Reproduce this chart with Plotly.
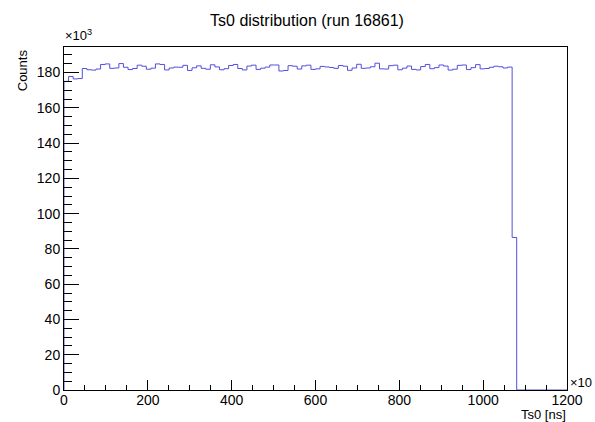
import plotly.graph_objects as go

# Histogram: 110 bins over 0..1200 ns, counts in units of 10^3
x_min = 0.0
x_max = 1200.0
n_bins = 110
counts_k = [
    175.0, 177.8, 176.4, 176.6,
    182.3, 181.6, 181.4, 182.0,
    184.6, 184.9, 182.4, 182.6, 185.1, 183.0, 181.7,
    182.3, 184.2, 183.6, 181.9, 182.5, 184.9, 184.6,
    181.5, 182.6, 183.1, 183.0, 184.1, 181.2, 182.7,
    183.8, 182.4, 181.9, 184.4, 183.2, 181.6, 182.2,
    184.0, 184.6, 182.3, 181.5, 183.7, 184.2, 181.8,
    182.5, 183.1, 184.3, 184.3, 180.9, 181.2, 183.9,
    183.6, 182.0, 183.8, 184.2, 181.8, 182.1, 183.5,
    183.2, 182.9, 182.4, 184.0, 183.6, 181.3, 182.6,
    184.7, 182.4, 182.6, 183.3, 185.3, 182.1, 182.0,
    183.9, 184.2, 181.6, 182.5, 183.7, 181.8, 181.5,
    183.4, 184.6, 182.2, 182.8, 184.3, 183.7, 181.4,
    181.9, 184.1, 184.3, 181.7, 182.8, 184.5, 182.1,
    182.3, 183.0, 183.6, 183.3, 182.6, 183.1,
    86.5,
]
counts_k = counts_k + [0.0] * (n_bins - len(counts_k))

y_ticks = [0, 20, 40, 60, 80, 100, 120, 140, 160, 180]
x_ticks = [0, 200, 400, 600, 800, 1000, 1200]

width = (x_max - x_min) / n_bins
edges = [x_min + i * width for i in range(n_bins + 1)]
xs = [x_min] + edges
ys = [0.0] + counts_k + [counts_k[-1]]

fig = go.Figure()
fig.add_trace(go.Scatter(
    x=xs, y=ys, mode="lines", line=dict(shape="hv", color="#5050dc", width=1),
    hoverinfo="skip", showlegend=False,
))

font_family = "Liberation Sans, Arial, sans-serif"
axis_common = dict(
    showline=True, linecolor="black", linewidth=1, mirror=True,
    ticks="inside", tickcolor="black", showgrid=False, zeroline=False,
    tickfont=dict(family=font_family, size=14, color="black"),
)
fig.update_layout(
    width=595, height=422,
    margin=dict(l=64, r=24, t=47, b=32),
    paper_bgcolor="white", plot_bgcolor="white",
    title=dict(text="Ts0 distribution (run 16861)", x=0.516, xanchor="center",
               y=0.952, yanchor="middle",
               font=dict(family=font_family, size=16, color="black")),
    xaxis=dict(range=[x_min, x_max], tickvals=x_ticks, ticklen=10,
               ticklabelstandoff=-3,
               minor=dict(dtick=50, ticklen=5, ticks="inside", tickcolor="black"),
               **axis_common),
    yaxis=dict(range=[0, 194.5], tickvals=y_ticks, ticklen=15,
               minor=dict(dtick=5, ticklen=8, ticks="inside", tickcolor="black"),
               **axis_common),
    annotations=[
        dict(text="Counts", xref="paper", yref="paper", x=-0.083, y=1.0,
             xanchor="center", yanchor="top", textangle=-90, showarrow=False,
             font=dict(family=font_family, size=13, color="black")),
        dict(text="Ts0 [ns]", xref="paper", yref="paper", x=1.002, y=-0.043,
             xanchor="right", yanchor="top", showarrow=False,
             font=dict(family=font_family, size=13, color="black")),
        dict(text="×10<sup>3</sup>", xref="paper", yref="paper", x=-0.002, y=1.006,
             xanchor="left", yanchor="bottom", showarrow=False,
             font=dict(family=font_family, size=13, color="black")),
        dict(text="×10", xref="paper", yref="paper", x=1.002, y=-0.005,
             xanchor="left", yanchor="bottom", showarrow=False,
             font=dict(family=font_family, size=13, color="black")),
    ],
)

fig.write_html("out.html", config={"displayModeBar": False},
               post_script="document.body.style.margin='0px';")
